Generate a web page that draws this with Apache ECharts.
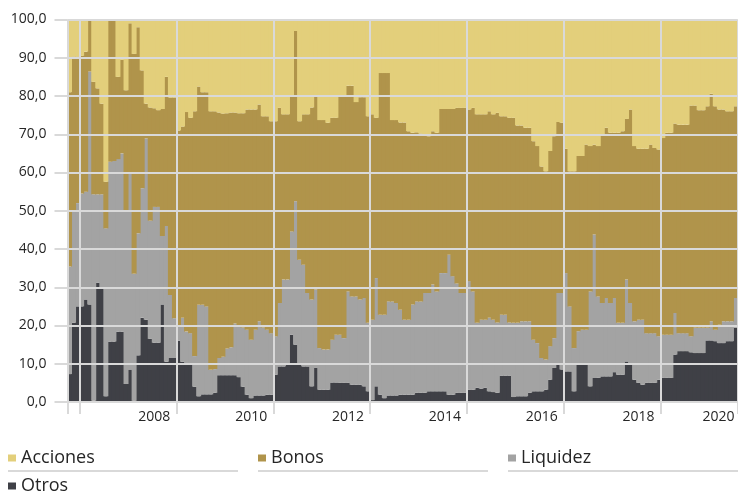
<!DOCTYPE html>
<html><head><meta charset="utf-8">
<script src="https://cdn.jsdelivr.net/npm/echarts/dist/echarts.min.js"></script>
<style>html,body{margin:0;padding:0;background:#fff}#c{width:738px;height:493px}</style>
</head><body><div id="c"></div>
<script>
// Monthly categories, April 2006 .. January 2020
const startYear = 2006, startMonth = 4, nMonths = 166;
const months = [];
for (let i = 0; i < nMonths; i++) {
  const m = startMonth - 1 + i;
  const y = startYear + Math.floor(m / 12);
  const mm = (m % 12) + 1;
  months.push(y + '-' + (mm < 10 ? '0' : '') + mm);
}
const yearLabels = ['2008', '2010', '2012', '2014', '2016', '2018', '2020'];
const yTicks = [0, 10, 20, 30, 40, 50, 60, 70, 80, 90, 100];

const otros = [7.3,20.7,25,25,26.8,25.5,0.3,31.2,30,1.5,
  15.8,15.8,18.4,18.4,4.7,8.5,0.3,12.2,22,21.5,
  16.5,15.5,15.5,25.5,10.5,11.5,11.5,16,10.5,10.2,
  10.2,4,1.5,2,2,2,2.4,7,7,7,
  7,7,6.5,4,1.9,1,1.7,1.7,1.7,1.9,
  1.9,7.1,9.3,9.3,10.2,17.6,15,10.2,9.3,9.3,
  4.1,8.9,3.2,3.2,3.2,5.1,5.1,5,5,5,
  4.5,4.5,4.5,4.1,2.8,0.5,4.1,1.9,1,1.7,
  1.7,1.7,1.9,1.9,1.9,1.9,2.4,2.4,2.4,2.8,
  2.8,2.8,2.8,2.8,1.9,1.9,2.4,2.4,2.4,3.2,
  3.2,3.7,3.5,3.7,2.8,2.6,2.4,6.9,6.9,6.9,
  1.3,1.5,1.5,1.5,2.4,2.8,2.8,2.8,3.2,5.8,
  8.9,10,8.5,8,8,2.8,9.9,9.8,9.8,4.1,
  6.3,6.3,6.7,6.7,6.7,7.8,7.1,7.1,10.6,10.2,
  5.8,5,4.5,5,5,5,5.8,6.3,6.3,6.3,
  12.4,13.3,13.3,13.3,13,12.8,12.8,12.8,16.1,16.1,
  15.9,15.4,15.4,15.9,15.9,19.4];

const liquidez = [28.1,29.3,27,29.5,28.2,60.9,54,23.1,24.3,43.9,
  47,47.2,45.1,46.6,45.3,51.1,33.2,31.9,33.9,47.4,
  30.9,35.5,35.5,17.9,35.5,16.5,10.4,4,11.5,8.2,
  7.8,8,23.9,23.4,23,6.4,6.2,4.5,4.8,7,
  7.3,13.5,13.5,15.5,17,15.3,17.2,19.4,17.8,17,
  16.1,10.1,16.6,22.7,21.8,27,37.5,27,26.6,19.2,
  22.7,20.5,10.9,10.5,10.5,11.2,12.5,12.6,11.7,23.9,
  23.1,23.1,22.3,23.1,17.9,21,28.3,20.9,21.8,24.6,
  24.6,24.2,22.2,19.6,19.6,23.6,23.9,23.9,26.1,25.7,
  27.9,26.1,30.9,30.9,36.6,31,28.6,26.1,26.1,28.4,
  25.7,17,18,17.8,19.2,18.9,18.4,15.9,15.9,13.9,
  19.4,19.2,19.6,19.6,18.7,13.5,12.6,8.7,7.9,8.8,
  7.8,18.5,20,25.7,17,11.3,8.6,9.1,9.1,24.8,
  37.5,21.3,19.2,20.5,19.2,19.4,13.6,13.6,21.4,15.7,
  15.3,16.5,17,13,13,13,11.4,11.3,11.3,11.3,
  10.9,4.7,4.7,4.7,4.2,6.6,6.6,6.6,3.3,5,
  3,4.8,5.7,5.2,5.2,7.8];

const bonos = [45.6,40.3,38.3,36,36.6,13.6,29.4,27.7,23.7,12.2,
  37.2,37,21.5,24.5,31.5,39.4,57.5,53.9,30.8,9.1,
  29.6,25.8,25.3,33.2,39,51.6,57.7,51,50,57.4,
  56.3,64,57.1,55.6,56,67.6,67.4,64.2,63.6,61.5,
  61.4,55.2,55.5,56,57.6,60.2,57.6,56.7,55.2,55.8,
  55.4,56.2,51,43.2,43.2,35.4,44.5,36.2,39.3,46.7,
  50.2,50.4,59.6,60,59.3,58,56.7,62.2,63.1,53.8,
  55.1,50.8,52.9,52.5,54,53.7,41.9,63.2,63.2,59.7,
  47.4,47.8,49,51.6,49.3,44.9,44.2,43.9,41.4,41,
  40.1,41.5,42.9,42.9,38.1,43.7,45.9,48.4,48.4,44.9,
  48,54.5,53.7,53.7,54,53.7,54.8,51.9,51.9,53.5,
  53.6,51.6,51.2,50.6,50.6,51.9,51.5,50.1,49.2,51,
  52.8,44.7,44.5,32.5,35.3,46.2,45.8,45.4,48.4,38,
  23.5,39.3,44,44.5,44.5,43.2,49.7,50.1,42,50.6,
  45.8,44.7,44.7,48.2,49.3,48.4,48.8,51.4,52.8,52.8,
  49.5,54.5,54.5,54.5,60.3,58.1,56.9,56.9,57.9,59.5,
  58.4,56.3,55.4,54.9,54.9,50.1];

const acciones = [19,9.7,9.7,9.5,8.4,0,16.3,18,22,42.4,
  0,0,15,10.5,18.5,1,9,2,13.3,22,
  23,23.2,23.7,23.4,15,20.4,20.4,29,28,24.2,
  25.7,24,17.5,19,19,24,24,24.3,24.6,24.5,
  24.3,24.3,24.5,24.5,23.5,23.5,23.5,22.2,25.3,25.3,
  26.6,26.6,23.1,24.8,24.8,20,3,26.6,24.8,24.8,
  23,20.2,26.3,26.3,27,25.7,25.7,20.2,20.2,17.3,
  17.3,21.6,20.3,20.3,25.3,24.8,25.7,14,14,14,
  26.3,26.3,26.9,26.9,29.2,29.6,29.5,29.8,30.1,30.5,
  29.2,29.6,23.4,23.4,23.4,23.4,23.1,23.1,23.1,23.5,
  23.1,24.8,24.8,24.8,24,24.8,24.4,25.3,25.3,25.7,
  25.7,27.7,27.7,28.3,28.3,31.8,33.1,38.4,39.7,34.4,
  30.5,26.8,27,33.8,39.7,39.7,35.7,35.7,32.7,33.1,
  32.7,33.1,30.1,28.3,29.6,29.6,29.6,29.2,26,23.5,
  33.1,33.8,33.8,33.8,32.7,33.6,34,31,29.6,29.6,
  27.2,27.5,27.5,27.5,22.5,22.5,23.7,23.7,22.7,19.4,
  22.7,23.5,23.5,24,24,22.7];

const seriesNames = ['Acciones', 'Bonos', 'Liquidez', 'Otros'];
const colors = {Acciones: '#e3cf7b', Bonos: '#b0944b', Liquidez: '#a3a3a3', Otros: '#3f4046'};

const FONT = '"Open Sans", "Noto Sans", sans-serif';
const TXT = '#262626';
const GRID = '#d9d9d9';

const gridTick = function (i) { return i === 0 || (i - 3) % 24 === 0; };
const labelShow = function (i, v) { return v.slice(5) === '01' && yearLabels.indexOf(v.slice(0, 4)) >= 0; };

function mk(name, data) {
  return {
    name: name, type: 'bar', stack: 'total', data: data,
    barWidth: 5,
    itemStyle: {color: colors[name], borderWidth: 0},
    emphasis: {disabled: true}
  };
}

const chart = echarts.init(document.getElementById('c'), null, {renderer: 'canvas'});
chart.setOption({
  animation: false,
  backgroundColor: '#ffffff',
  grid: {left: 67.5, right: 0.5, top: 19.5, bottom: 91},
  legend: {
    data: seriesNames, left: 8, top: 449, width: 745, padding: 0,
    itemWidth: 8, itemHeight: 7, itemGap: 10, icon: 'rect', selectedMode: false,
    textStyle: {fontFamily: FONT, fontSize: 18, color: TXT, width: 227, lineHeight: 17}
  },
  graphic: [
    {type: 'line', shape: {x1: 8, y1: 471, x2: 238, y2: 471}, style: {stroke: GRID, lineWidth: 2}},
    {type: 'line', shape: {x1: 258, y1: 471, x2: 488, y2: 471}, style: {stroke: GRID, lineWidth: 2}},
    {type: 'line', shape: {x1: 508, y1: 471, x2: 738, y2: 471}, style: {stroke: GRID, lineWidth: 2}}
  ],
  xAxis: {
    type: 'category', data: months, boundaryGap: true, z: 10,
    axisLine: {show: true, lineStyle: {color: GRID, width: 2}},
    axisTick: {show: true, length: 12, interval: gridTick, lineStyle: {color: GRID, width: 2}},
    splitLine: {show: true, interval: gridTick, lineStyle: {color: GRID, width: 2}},
    axisLabel: {
      interval: labelShow, margin: 8, fontFamily: FONT, fontSize: 14, color: TXT,
      formatter: function (v) {
        const y = v.slice(0, 4);
        return y === yearLabels[yearLabels.length - 1] ? '{r|' + y + '}' : y;
      },
      rich: {r: {fontFamily: FONT, fontSize: 14, color: TXT, padding: [0, 34, 0, 0]}}
    }
  },
  yAxis: {
    type: 'value', min: yTicks[0], max: yTicks[yTicks.length - 1], interval: 10, z: 10,
    axisLine: {show: false},
    axisTick: {show: true, length: 13, lineStyle: {color: GRID, width: 2}},
    splitLine: {show: true, lineStyle: {color: GRID, width: 2}},
    axisLabel: {
      margin: 21, fontFamily: FONT, fontSize: 14, color: TXT,
      formatter: function (v) { return v.toFixed(1).replace('.', ','); }
    }
  },
  series: [mk('Otros', otros), mk('Liquidez', liquidez), mk('Bonos', bonos), mk('Acciones', acciones)]
});
</script>
</body></html>
